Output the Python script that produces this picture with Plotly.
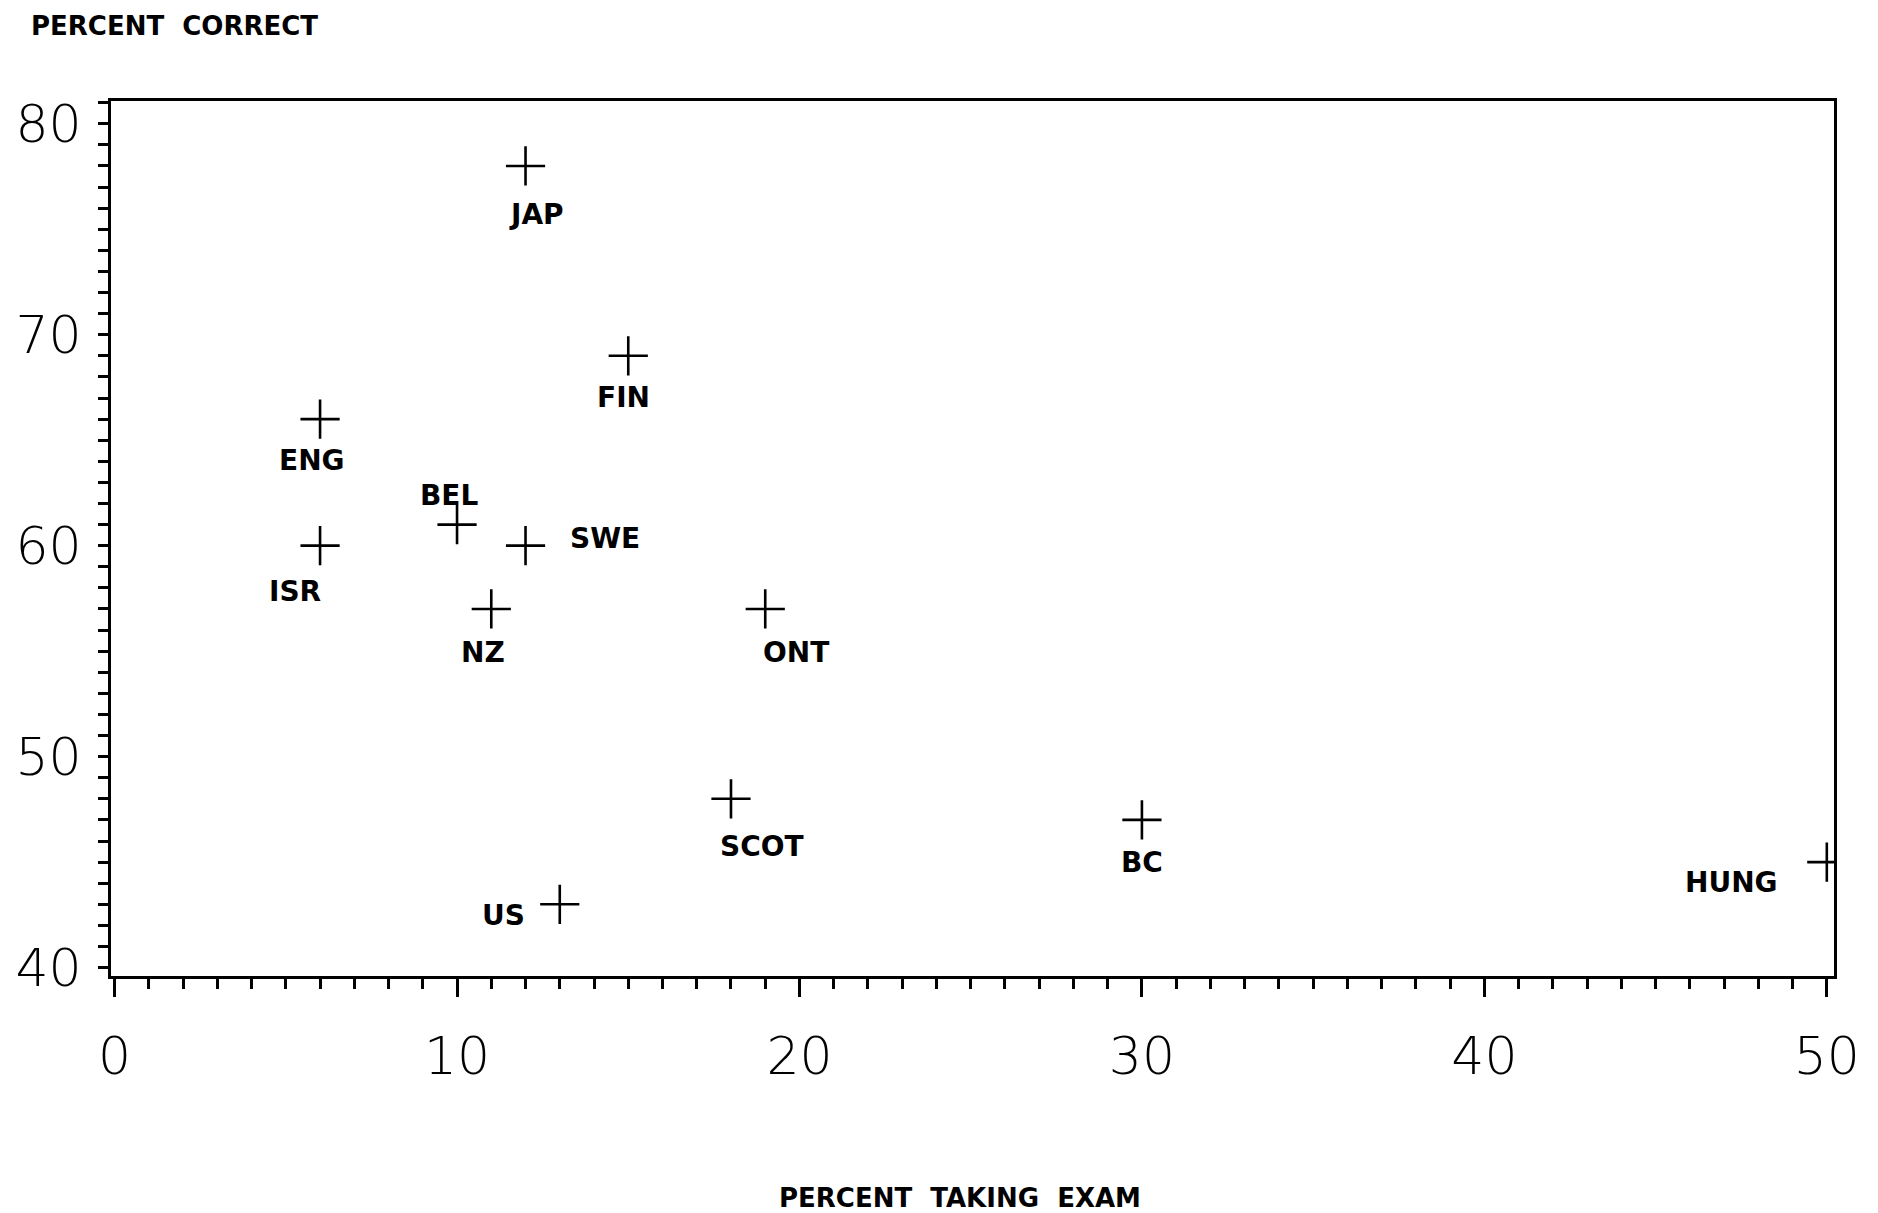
import plotly.graph_objects as go

countries = ["JAP", "FIN", "ENG", "BEL", "ISR", "SWE", "NZ", "ONT", "SCOT", "BC", "HUNG", "US"]
pct_taking = [12, 15, 6, 10, 6, 12, 11, 19, 18, 30, 50, 13]
pct_correct = [78, 69, 66, 61, 60, 60, 57, 57, 48, 47, 45, 43]

x_ticks = [0, 10, 20, 30, 40, 50]
y_ticks = [40, 50, 60, 70, 80]

# label offsets (pixels) relative to the marker
label_offsets = {
    "JAP": (11, -49), "FIN": (-5, -42), "ENG": (-8, -41), "BEL": (-8, 29),
    "ISR": (-25, -46), "SWE": (79, 7), "NZ": (-8, -44), "ONT": (31, -44),
    "SCOT": (31, -48), "BC": (0, -43), "HUNG": (-95, -20), "US": (-56, -11),
}

fig = go.Figure()
fig.add_trace(go.Scatter(
    x=pct_taking, y=pct_correct, mode="markers",
    marker=dict(symbol="cross-thin", size=28, line=dict(width=2.6, color="black"), color="black"),
    showlegend=False, hoverinfo="skip",
))

for c, xv, yv in zip(countries, pct_taking, pct_correct):
    dx, dy = label_offsets[c]
    fig.add_annotation(x=xv, y=yv, xref="x", yref="y", text=c, showarrow=False,
                       xshift=dx, yshift=dy,
                       font=dict(family="DejaVu Sans", size=28, color="black", weight="bold"))

fig.add_annotation(xref="paper", yref="paper", x=-0.0476, y=1.0857, xanchor="left", yanchor="middle",
                   text="PERCENT\u00a0 CORRECT", showarrow=False,
                   font=dict(family="DejaVu Sans", size=26, color="black", weight="bold"))
fig.add_annotation(xref="paper", yref="paper", x=0.493, y=-0.254, xanchor="center", yanchor="middle",
                   text="PERCENT\u00a0 TAKING\u00a0 EXAM", showarrow=False,
                   font=dict(family="DejaVu Sans", size=26, color="black", weight="bold"))

fig.update_layout(
    width=1878, height=1213,
    margin=dict(l=103, r=52, t=93, b=245),
    paper_bgcolor="white", plot_bgcolor="white",
    xaxis=dict(range=[-0.105, 50.21], tickvals=x_ticks, ticktext=[str(v) for v in x_ticks],
               automargin=False,
               showgrid=False, zeroline=False, showline=True, linecolor="black", linewidth=3,
               mirror=True, ticks="outside", ticklen=18, tickwidth=3, tickcolor="black",
               ticklabelstandoff=15,
               minor=dict(dtick=1, tick0=0, ticks="outside", ticklen=10, tickwidth=3,
                          tickcolor="black", showgrid=False),
               tickfont=dict(family="DejaVu Sans", size=52, color="black", weight=200)),
    yaxis=dict(range=[39.6, 81.08], tickvals=y_ticks, ticktext=[str(v) for v in y_ticks],
               automargin=False,
               showgrid=False, zeroline=False, showline=True, linecolor="black", linewidth=3,
               mirror=True, ticks="outside", ticklen=10, tickwidth=3, tickcolor="black",
               ticklabelstandoff=6,
               minor=dict(dtick=1, tick0=0, ticks="outside", ticklen=10, tickwidth=3,
                          tickcolor="black", showgrid=False),
               tickfont=dict(family="DejaVu Sans", size=52, color="black", weight=200)),
)

fig.write_html("out.html")
